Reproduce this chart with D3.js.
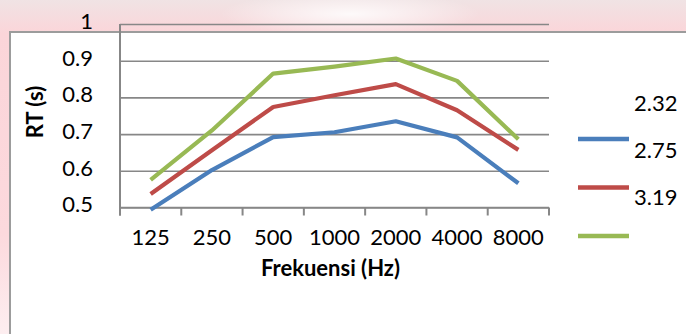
<!DOCTYPE html>
<html>
<head>
<meta charset="utf-8">
<script src="https://cdn.jsdelivr.net/npm/d3@7"></script>
<style>
  html, body { margin: 0; padding: 0; background: #fff; }
  svg { display: block; }
  text { font-family: Lato, "Open Sans", sans-serif; fill: #000; }
</style>
</head>
<body>
<svg id="chart" width="686" height="334"></svg>
<script>
// Reverberation time per octave band for three room volumes
const frequencies = ["125", "250", "500", "1000", "2000", "4000", "8000"];
const seriesNames = ["2.32", "2.75", "3.19"];
const rt232 = [0.494, 0.602, 0.692, 0.705, 0.735, 0.691, 0.566];
const rt275 = [0.537, 0.656, 0.774, 0.806, 0.836, 0.765, 0.657];
const rt319 = [0.575, 0.710, 0.865, 0.884, 0.906, 0.845, 0.686];
const yTicks = [0.5, 0.6, 0.7, 0.8, 0.9, 1];
const seriesColors = ["#4a7ebb", "#be4b48", "#98b954"];

const series = seriesNames.map((name, i) => ({
  name, color: seriesColors[i], values: [rt232, rt275, rt319][i]
}));

const svg = d3.select("#chart");
const W = 686, H = 334;

// slide background behind the chart frame
const defs = svg.append("defs");
const bg = defs.append("linearGradient").attr("id", "bg")
  .attr("x1", 0).attr("y1", 0).attr("x2", 0).attr("y2", 1);
bg.append("stop").attr("offset", "0").attr("stop-color", "#f0e3e4");
bg.append("stop").attr("offset", "0.1").attr("stop-color", "#fbd5d9");
bg.append("stop").attr("offset", "0.7").attr("stop-color", "#fcd9dd");
bg.append("stop").attr("offset", "1").attr("stop-color", "#fdeef0");
const glow = defs.append("radialGradient").attr("id", "glow");
glow.append("stop").attr("offset", "0").attr("stop-color", "#ffffff").attr("stop-opacity", 0.85);
glow.append("stop").attr("offset", "1").attr("stop-color", "#ffffff").attr("stop-opacity", 0);

svg.append("rect").attr("width", W).attr("height", H).attr("fill", "url(#bg)");
svg.append("ellipse").attr("cx", 350).attr("cy", 14).attr("rx", 130).attr("ry", 22)
  .attr("fill", "url(#glow)");

// chart frame
svg.append("rect")
  .attr("x", 10).attr("y", 32).attr("width", W).attr("height", H)
  .attr("fill", "#fff").attr("stroke", "#9c9c9c").attr("stroke-width", 2);

const plotLeft = 120, plotRight = 549, plotTop = 24, plotBottom = 207.5;

const x = d3.scaleBand().domain(frequencies).range([plotLeft, plotRight]);
const y = d3.scaleLinear().domain([0.5, 1]).range([plotBottom, plotTop]);

// horizontal gridlines with value labels
const yAxis = svg.append("g")
  .attr("transform", `translate(${plotLeft},0)`)
  .call(d3.axisLeft(y).tickValues(yTicks).tickFormat(d3.format("~g"))
    .tickSize(-(plotRight - plotLeft)).tickPadding(27));
yAxis.select(".domain").remove();
yAxis.selectAll(".tick line").attr("stroke", "#878787").attr("stroke-width", 1.6);
yAxis.selectAll(".tick text")
  .attr("font-size", 22).attr("font-family", "Lato, sans-serif")
  .attr("dy", "0.2em").attr("fill", "#000");

// vertical axis line
svg.append("line")
  .attr("x1", plotLeft).attr("x2", plotLeft)
  .attr("y1", plotTop).attr("y2", plotBottom + 8)
  .attr("stroke", "#878787").attr("stroke-width", 2);

// category axis: labels centred in bands, ticks on band edges
const xAxis = svg.append("g")
  .attr("transform", `translate(0,${plotBottom})`)
  .call(d3.axisBottom(x).tickSize(0).tickPadding(22));
xAxis.select(".domain").remove();
xAxis.selectAll(".tick text")
  .attr("font-size", 22).attr("font-family", "Lato, sans-serif").attr("fill", "#000");

const edges = frequencies.map(f => x(f)).concat([x.range()[1]]);
svg.append("g").selectAll("line").data(edges).join("line")
  .attr("x1", d => d).attr("x2", d => d)
  .attr("y1", plotBottom).attr("y2", plotBottom + 8)
  .attr("stroke", "#878787").attr("stroke-width", 2);
svg.append("line")
  .attr("x1", plotLeft).attr("x2", plotRight)
  .attr("y1", plotBottom).attr("y2", plotBottom)
  .attr("stroke", "#878787").attr("stroke-width", 1.6);

// axis titles
svg.append("text")
  .attr("x", (plotLeft + plotRight) / 2 - 4).attr("y", 276)
  .attr("text-anchor", "middle").attr("font-size", 22).attr("font-weight", "bold")
  .text("Frekuensi (Hz)");
svg.append("text")
  .attr("transform", "translate(43,112) rotate(-90)")
  .attr("text-anchor", "middle").attr("font-size", 22).attr("font-weight", "bold")
  .text("RT (s)");

// series lines
const line = d3.line()
  .x((d, i) => x(frequencies[i]) + x.bandwidth() / 2)
  .y(d => y(d));
svg.append("g").selectAll("path").data(series).join("path")
  .attr("d", d => line(d.values))
  .attr("fill", "none").attr("stroke", d => d.color)
  .attr("stroke-width", 4.2).attr("stroke-linejoin", "round");

// legend (labels sit one row above their swatches)
const legend = svg.append("g");
series.forEach((s, i) => {
  legend.append("line")
    .attr("x1", 578).attr("x2", 629)
    .attr("y1", 139 + i * 48.5).attr("y2", 139 + i * 48.5)
    .attr("stroke", s.color).attr("stroke-width", 4.5);
  legend.append("text")
    .attr("x", 634).attr("y", 111 + i * 47)
    .attr("font-size", 22).text(s.name);
});
</script>
</body>
</html>
